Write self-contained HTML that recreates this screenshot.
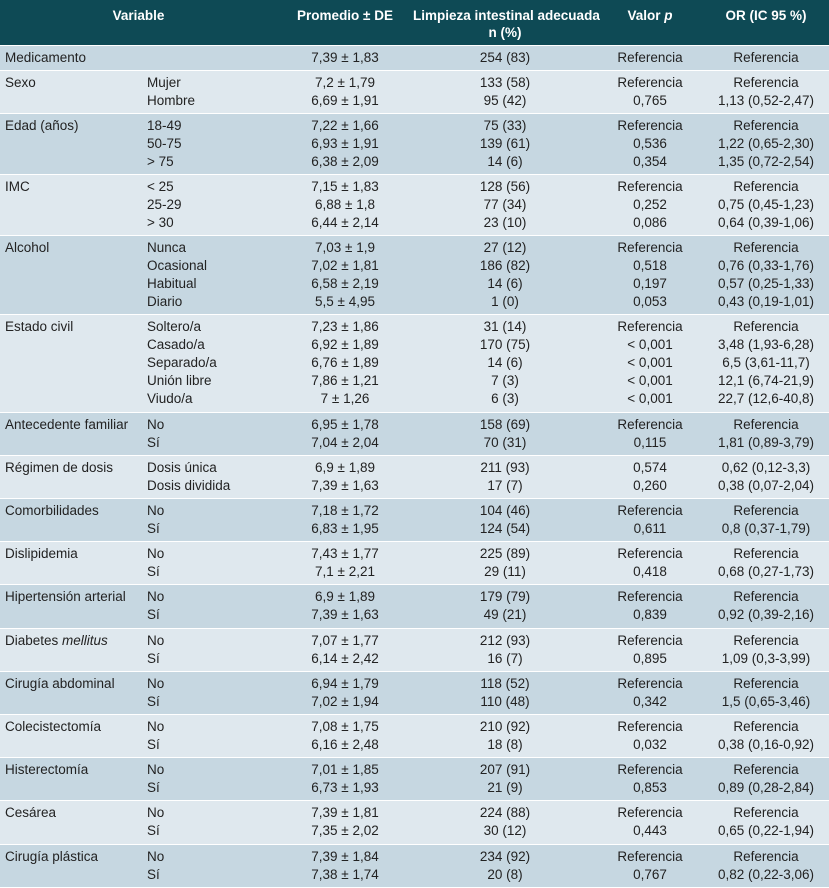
<!DOCTYPE html>
<html><head><meta charset="utf-8">
<style>
html,body{margin:0;padding:0;background:#fff;}
body{width:829px;height:888px;overflow:hidden;font-family:"Liberation Sans Narrow","Liberation Sans",sans-serif;font-size:13.5px;color:#222;}
table{border-collapse:collapse;width:829px;table-layout:fixed;}
th{background:#0e4a55;color:#fff;font-weight:bold;height:45px;box-sizing:border-box;vertical-align:top;padding:7px 0 0 0;line-height:17px;font-size:13.5px;white-space:nowrap;}
td{line-height:18px;padding:3px 0 3.2px 0;vertical-align:top;border-top:1px solid #fff;white-space:nowrap;}
tr.d td{background:#c6d7e1;}
tr.l td{background:#dfe8ee;}
.c{text-align:center;}
</style></head><body>
<table>
<colgroup><col style="width:147px"><col style="width:130px"><col style="width:136px"><col style="width:184px"><col style="width:106px"><col style="width:126px"></colgroup>
<thead><tr>
<th colspan="2" class="c">Variable</th>
<th class="c">Promedio ± DE</th>
<th class="c">Limpieza intestinal adecuada<br>n (%)</th>
<th class="c">Valor <i>p</i></th>
<th class="c">OR (IC 95 %)</th>
</tr></thead>
<tbody id="tb"></tbody>
</table>
<script>
const groups=[
["Medicamento",[""],["7,39 ± 1,83"],["254 (83)"],["Referencia"],["Referencia"]],
["Sexo",["Mujer","Hombre"],["7,2 ± 1,79","6,69 ± 1,91"],["133 (58)","95 (42)"],["Referencia","0,765"],["Referencia","1,13 (0,52-2,47)"]],
["Edad (años)",["18-49","50-75","> 75"],["7,22 ± 1,66","6,93 ± 1,91","6,38 ± 2,09"],["75 (33)","139 (61)","14 (6)"],["Referencia","0,536","0,354"],["Referencia","1,22 (0,65-2,30)","1,35 (0,72-2,54)"]],
["IMC",["< 25","25-29","> 30"],["7,15 ± 1,83","6,88 ± 1,8","6,44 ± 2,14"],["128 (56)","77 (34)","23 (10)"],["Referencia","0,252","0,086"],["Referencia","0,75 (0,45-1,23)","0,64 (0,39-1,06)"]],
["Alcohol",["Nunca","Ocasional","Habitual","Diario"],["7,03 ± 1,9","7,02 ± 1,81","6,58 ± 2,19","5,5 ± 4,95"],["27 (12)","186 (82)","14 (6)","1 (0)"],["Referencia","0,518","0,197","0,053"],["Referencia","0,76 (0,33-1,76)","0,57 (0,25-1,33)","0,43 (0,19-1,01)"]],
["Estado civil",["Soltero/a","Casado/a","Separado/a","Unión libre","Viudo/a"],["7,23 ± 1,86","6,92 ± 1,89","6,76 ± 1,89","7,86 ± 1,21","7 ± 1,26"],["31 (14)","170 (75)","14 (6)","7 (3)","6 (3)"],["Referencia","< 0,001","< 0,001","< 0,001","< 0,001"],["Referencia","3,48 (1,93-6,28)","6,5 (3,61-11,7)","12,1 (6,74-21,9)","22,7 (12,6-40,8)"]],
["Antecedente familiar",["No","Sí"],["6,95 ± 1,78","7,04 ± 2,04"],["158 (69)","70 (31)"],["Referencia","0,115"],["Referencia","1,81 (0,89-3,79)"]],
["Régimen de dosis",["Dosis única","Dosis dividida"],["6,9 ± 1,89","7,39 ± 1,63"],["211 (93)","17 (7)"],["0,574","0,260"],["0,62 (0,12-3,3)","0,38 (0,07-2,04)"]],
["Comorbilidades",["No","Sí"],["7,18 ± 1,72","6,83 ± 1,95"],["104 (46)","124 (54)"],["Referencia","0,611"],["Referencia","0,8 (0,37-1,79)"]],
["Dislipidemia",["No","Sí"],["7,43 ± 1,77","7,1 ± 2,21"],["225 (89)","29 (11)"],["Referencia","0,418"],["Referencia","0,68 (0,27-1,73)"]],
["Hipertensión arterial",["No","Sí"],["6,9 ± 1,89","7,39 ± 1,63"],["179 (79)","49 (21)"],["Referencia","0,839"],["Referencia","0,92 (0,39-2,16)"]],
["Diabetes <i>mellitus</i>",["No","Sí"],["7,07 ± 1,77","6,14 ± 2,42"],["212 (93)","16 (7)"],["Referencia","0,895"],["Referencia","1,09 (0,3-3,99)"]],
["Cirugía abdominal",["No","Sí"],["6,94 ± 1,79","7,02 ± 1,94"],["118 (52)","110 (48)"],["Referencia","0,342"],["Referencia","1,5 (0,65-3,46)"]],
["Colecistectomía",["No","Sí"],["7,08 ± 1,75","6,16 ± 2,48"],["210 (92)","18 (8)"],["Referencia","0,032"],["Referencia","0,38 (0,16-0,92)"]],
["Histerectomía",["No","Sí"],["7,01 ± 1,85","6,73 ± 1,93"],["207 (91)","21 (9)"],["Referencia","0,853"],["Referencia","0,89 (0,28-2,84)"]],
["Cesárea",["No","Sí"],["7,39 ± 1,81","7,35 ± 2,02"],["224 (88)","30 (12)"],["Referencia","0,443"],["Referencia","0,65 (0,22-1,94)"]],
["Cirugía plástica",["No","Sí"],["7,39 ± 1,84","7,38 ± 1,74"],["234 (92)","20 (8)"],["Referencia","0,767"],["Referencia","0,82 (0,22-3,06)"]]
];
const tb=document.getElementById('tb');
const names=["variable-cell","category-cell","mean-cell","cleaning-cell","p-value-cell","or-cell"];
groups.forEach((g,i)=>{
  const tr=document.createElement('tr');
  tr.className=i%2?'l':'d';
  
  
  const cells=[g[0],g[1].join('<br>'),g[2].join('<br>'),g[3].join('<br>'),g[4].join('<br>'),g[5].join('<br>')];
  cells.forEach((c,j)=>{
    const td=document.createElement('td');
    td.innerHTML=c;
    if(j===0)td.style.paddingLeft='5px';
    if(j>=2)td.className='c';
    
    
    tr.appendChild(td);
  });
  tb.appendChild(tr);
});
</script>
</body></html>
